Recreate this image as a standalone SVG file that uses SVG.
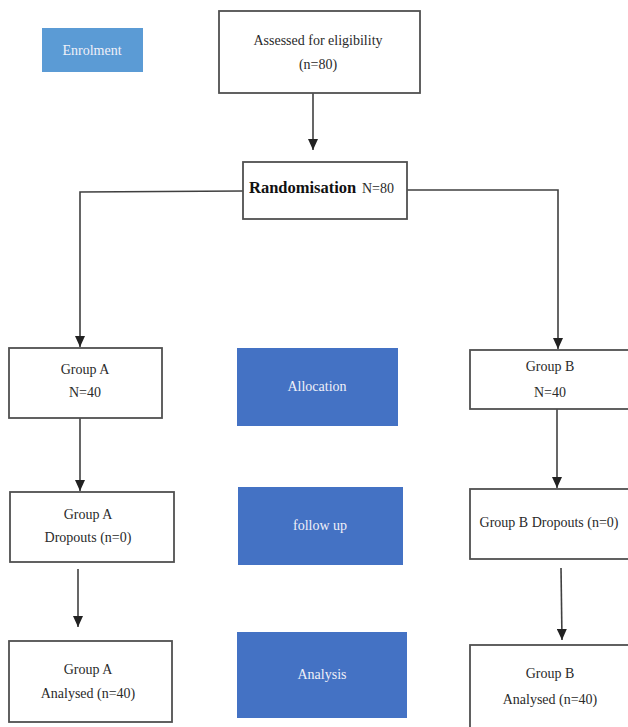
<svg xmlns="http://www.w3.org/2000/svg" width="628" height="727" viewBox="0 0 628 727">
<defs>
<marker id="ah" markerUnits="userSpaceOnUse" markerWidth="12" markerHeight="10" viewBox="0 0 12 10" refX="11" refY="5" orient="auto">
<path d="M0,0 L11,5 L0,10 Z" fill="#222"/>
</marker>
</defs>
<style>
.box{fill:#fff;stroke:#505050;stroke-width:1.8}
.blue{fill:#4472c4}
.lblue{fill:#5b9bd5}
.t{font-family:"Liberation Serif",serif;font-size:14px;fill:#2a2a2a;text-anchor:middle}
.w{font-family:"Liberation Serif",serif;font-size:14px;fill:#f0f0f8;text-anchor:middle}
.c{fill:none;stroke:#404040;stroke-width:1.6}
</style>
<rect width="628" height="727" fill="#fff"/>
<g id="connectors">
<path class="c" d="M313,93 V150" marker-end="url(#ah)"/>
<path class="c" d="M243,191 L80,192 V347" marker-end="url(#ah)"/>
<path class="c" d="M407,190 H558 V349" marker-end="url(#ah)"/>
<path class="c" d="M80,418 V491" marker-end="url(#ah)"/>
<path class="c" d="M557,404 V488" marker-end="url(#ah)"/>
<path class="c" d="M78,569 V627" marker-end="url(#ah)"/>
<path class="c" d="M561,568 L562,640" marker-end="url(#ah)"/>
</g>
<g id="enrolment">
<rect class="lblue" x="42" y="28" width="101" height="44"/>
<text class="w" x="92" y="55">Enrolment</text>
</g>
<g id="assessed">
<rect class="box" x="219" y="11" width="201" height="82"/>
<text class="t" x="318" y="45">Assessed for eligibility</text>
<text class="t" x="318" y="69">(n=80)</text>
</g>
<g id="randomisation">
<rect class="box" x="243" y="162" width="164" height="57"/>
<text x="249" y="193" style="font-family:'Liberation Serif',serif;font-size:16.5px;font-weight:bold;fill:#111">Randomisation</text>
<text x="362" y="193" style="font-family:'Liberation Serif',serif;font-size:14px;fill:#2a2a2a">N=80</text>
</g>
<g id="groupA">
<rect class="box" x="9" y="348" width="153" height="70"/>
<text class="t" x="85" y="374">Group A</text>
<text class="t" x="85" y="397">N=40</text>
</g>
<g id="allocation">
<rect class="blue" x="237" y="348" width="161" height="78"/>
<text class="w" x="317" y="391">Allocation</text>
</g>
<g id="groupB">
<rect class="box" x="470" y="350" width="162" height="59"/>
<text class="t" x="550" y="371">Group B</text>
<text class="t" x="550" y="397">N=40</text>
</g>
<g id="groupA-dropouts">
<rect class="box" x="10" y="492" width="164" height="70"/>
<text class="t" x="88" y="519">Group A</text>
<text class="t" x="88" y="542">Dropouts (n=0)</text>
</g>
<g id="followup">
<rect class="blue" x="238" y="487" width="165" height="78"/>
<text class="w" x="320" y="530">follow up</text>
</g>
<g id="groupB-dropouts">
<rect class="box" x="470" y="489" width="162" height="70"/>
<text class="t" x="549" y="527">Group B Dropouts (n=0)</text>
</g>
<g id="groupA-analysed">
<rect class="box" x="9" y="641" width="163" height="81"/>
<text class="t" x="88" y="674">Group A</text>
<text class="t" x="88" y="698">Analysed (n=40)</text>
</g>
<g id="analysis">
<rect class="blue" x="237" y="632" width="170" height="86"/>
<text class="w" x="322" y="679">Analysis</text>
</g>
<g id="groupB-analysed">
<rect class="box" x="470" y="645" width="162" height="90"/>
<text class="t" x="550" y="678">Group B</text>
<text class="t" x="550" y="704">Analysed (n=40)</text>
</g>
</svg>
